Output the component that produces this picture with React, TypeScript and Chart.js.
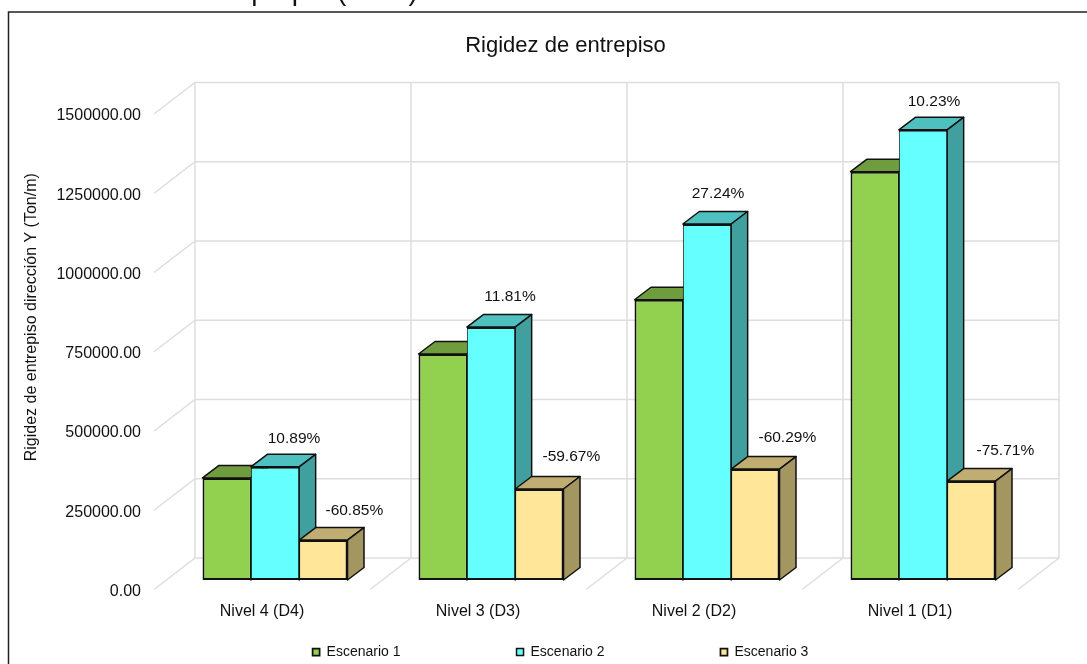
import React, { useEffect, useRef } from "react";
import { Chart, registerables } from "chart.js";

Chart.register(...registerables);

const categories = ["Nivel 4 (D4)", "Nivel 3 (D3)", "Nivel 2 (D2)", "Nivel 1 (D1)"];
const escenario1 = [322000, 713000, 884000, 1288000];
const escenario2 = [357000, 798000, 1123000, 1420000];
const escenario3 = [126000, 287000, 350000, 312000];
const variacion2 = ["10.89%", "11.81%", "27.24%", "10.23%"];
const variacion3 = ["-60.85%", "-59.67%", "-60.29%", "-75.71%"];
const FONT = "'Liberation Sans', Arial, sans-serif";

const FRONT = ["#92D050", "#66FFFF", "#FFE699"];
const TOP = ["#6F9C3C", "#4FC0C0", "#BFAD72"];
const SIDE = ["#5F8A34", "#40A0A0", "#A39660"];
const INK = "#111";
const WALL = "#DEDEDE";

// scale pixels sit LIFT px below the drawn floor so the tick labels read as in the source
const LIFT = 2;
const WALL_DX = 41, WALL_DY = 33.5, BAR_DX = 13, BAR_DY = 11.5, DEPTH_DX = 16.5, DEPTH_DY = 12.5;
const NUDGE2 = [[19, -28], [19, -30], [11, -30], [11, -28]];
const NUDGE3 = [[31, -29], [32, -32], [32, -31], [34, -30]];

const scene3d = {
  id: "scene3d",
  afterLayout(chart: any) {
    // the title and legend are centred on the frame, not on the plot
    chart.titleBlock.left += 46;
    chart.titleBlock.right += 46;
    const legend = chart.legend;
    legend.left += 41;
    legend.right += 41;
    legend.top = 645 - legend.options.labels.padding;
    legend.bottom = 664;
    const yScale = chart.scales.y;
    const drawTitle = yScale.drawTitle;
    yScale.drawTitle = function () {
      const c = this.ctx;
      c.save();
      c.translate(-3, -36.5);
      drawTitle.call(this);
      c.restore();
    };
  },
  beforeDraw(chart: any) {
    const { ctx } = chart;
    ctx.save();
    ctx.fillStyle = "#fff";
    ctx.fillRect(0, 0, chart.width, chart.height);
    ctx.strokeStyle = "#222";
    ctx.lineWidth = 1.5;
    ctx.strokeRect(8.5, 12, chart.width + 100, chart.height + 100);
    ctx.fillStyle = "#111";
    ctx.font = `28px ${FONT}`;
    ctx.textBaseline = "alphabetic";
    ctx.fillText("Nota: Elaboración propia (2021)", 21, 0);
    ctx.restore();
  },
  beforeDatasetsDraw(chart: any) {
    const { ctx, chartArea: a } = chart;
    const y = chart.scales.y;
    ctx.save();
    ctx.strokeStyle = WALL;
    ctx.lineWidth = 1.5;
    const step = (a.right - a.left) / categories.length;
    ctx.beginPath();
    y.ticks.forEach((t: any) => {
      const py = y.getPixelForValue(t.value);
      ctx.moveTo(a.left, py - LIFT);
      ctx.lineTo(a.left + WALL_DX, py - WALL_DY);
      ctx.lineTo(a.right + WALL_DX, py - WALL_DY);
    });
    for (let i = 0; i <= categories.length; i++) {
      const px = a.left + i * step;
      ctx.moveTo(px, a.bottom - LIFT);
      ctx.lineTo(px + WALL_DX, a.bottom - WALL_DY);
      ctx.lineTo(px + WALL_DX, a.top - WALL_DY);
    }
    ctx.stroke();
    ctx.restore();

    // hidden faces first, front faces come from the bar controller
    ctx.save();
    ctx.translate(BAR_DX, -BAR_DY);
    chart.data.datasets.forEach((_: any, di: number) => {
      chart.getDatasetMeta(di).data.forEach((bar: any) => {
        const l = bar.x - bar.width / 2, r = bar.x + bar.width / 2, top = bar.y, base = bar.base;
        ctx.lineWidth = 1.5;
        ctx.strokeStyle = INK;
        ctx.lineJoin = "round";
        ctx.fillStyle = TOP[di];
        ctx.beginPath();
        ctx.moveTo(l, top);
        ctx.lineTo(l + DEPTH_DX, top - DEPTH_DY);
        ctx.lineTo(r + DEPTH_DX, top - DEPTH_DY);
        ctx.lineTo(r, top);
        ctx.closePath();
        ctx.fill();
        ctx.stroke();
        ctx.fillStyle = SIDE[di];
        ctx.beginPath();
        ctx.moveTo(r, top);
        ctx.lineTo(r + DEPTH_DX, top - DEPTH_DY);
        ctx.lineTo(r + DEPTH_DX, base - DEPTH_DY);
        ctx.lineTo(r, base);
        ctx.closePath();
        ctx.fill();
        ctx.stroke();
      });
    });
    ctx.restore();
    ctx.save();
    ctx.translate(BAR_DX, -BAR_DY);
  },
  afterDatasetsDraw(chart: any) {
    const { ctx } = chart;
    ctx.restore();
    ctx.save();
    ctx.translate(BAR_DX, -BAR_DY);
    ctx.font = `15.5px ${FONT}`;
    ctx.fillStyle = INK;
    ctx.textAlign = "center";
    ctx.textBaseline = "middle";
    [[1, variacion2, NUDGE2], [2, variacion3, NUDGE3]].forEach(([di, texts, nudge]: any) => {
      chart.getDatasetMeta(di).data.forEach((bar: any, i: number) => {
        ctx.fillText(texts[i], bar.x + nudge[i][0], bar.y + nudge[i][1]);
      });
    });
    ctx.restore();
  },
};

export default function App() {
  const ref = useRef<HTMLCanvasElement>(null);
  useEffect(() => {
    const mk = (label: string, data: number[], i: number, borderWidth: any) => ({
      label,
      data,
      backgroundColor: FRONT[i],
      borderColor: INK,
      borderWidth,
      borderSkipped: false,
      clip: false,
      categoryPercentage: 145 / 216,
      barPercentage: 1,
    });
    const chart = new Chart(ref.current!, {
      type: "bar",
      data: {
        labels: categories,
        datasets: [
          mk("Escenario 1", escenario1, 0, { top: 2, bottom: 2, left: 2, right: 1 }),
          mk("Escenario 2", escenario2, 1, { top: 2, bottom: 2, left: 1, right: 1 }),
          mk("Escenario 3", escenario3, 2, { top: 2, bottom: 2, left: 1, right: 2 }),
        ],
      } as any,
      plugins: [scene3d as any],
      options: {
        responsive: false,
        animation: false,
        layout: { padding: { left: 21, right: 69, top: 0, bottom: 13.5 } },
        plugins: {
          title: {
            display: true,
            text: "Rigidez de entrepiso",
            color: INK,
            font: { family: FONT, size: 22, weight: "normal" },
            padding: { top: 33, bottom: 56.6 },
          },
          legend: {
            position: "bottom",
            maxHeight: 24,
            labels: {
              color: INK,
              font: { family: FONT, size: 14 },
              boxWidth: 7,
              boxHeight: 7,
              padding: 116,
            },
          },
          tooltip: { enabled: false },
        },
        scales: {
          x: {
            grid: { display: false },
            border: { display: false },
            ticks: { color: INK, font: { family: FONT, size: 16 }, padding: 2 },
            afterFit: (s: any) => { s.height = 35; },
          },
          y: {
            min: 0,
            max: 1500000,
            grid: { display: false },
            border: { display: false },
            title: {
              display: true,
              text: "Rigidez de entrepiso dirección Y (Ton/m)",
              color: INK,
              font: { family: FONT, size: 16 },
            },
            ticks: {
              color: INK,
              font: { family: FONT, size: 16 },
              stepSize: 250000,
              padding: 5,
              callback: (v: any) => Number(v).toFixed(2),
            },
            afterFit: (s: any) => { s.width = 133; },
          },
        },
      } as any,
    });
    return () => chart.destroy();
  }, []);
  return (
    <div style={{ position: "fixed", left: 0, top: 0 }}>
      <canvas ref={ref} width={1087} height={664} style={{ display: "block" }} />
    </div>
  );
}
